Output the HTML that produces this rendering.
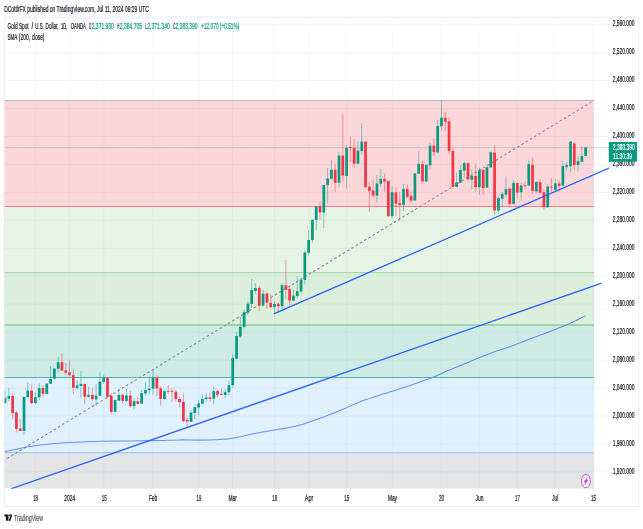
<!DOCTYPE html>
<html><head><meta charset="utf-8"><title>Chart</title>
<style>html,body{margin:0;padding:0;background:#fff;width:643px;height:529px;overflow:hidden;font-family:"Liberation Sans",sans-serif}</style>
</head><body>
<svg width="643" height="529" viewBox="0 0 643 529" style="position:absolute;left:0;top:0;display:block" font-family="Liberation Sans, sans-serif">
<rect x="0" y="0" width="643" height="529" fill="#fff"/>
<defs><clipPath id="plot"><rect x="4.2" y="17.1" width="604.8" height="471.7"/></clipPath></defs>
<line x1="4.2" y1="24.60" x2="609.0" y2="24.60" stroke="#f1f2f5" stroke-width="0.8"/>
<line x1="4.2" y1="52.56" x2="609.0" y2="52.56" stroke="#f1f2f5" stroke-width="0.8"/>
<line x1="4.2" y1="80.52" x2="609.0" y2="80.52" stroke="#f1f2f5" stroke-width="0.8"/>
<line x1="4.2" y1="108.48" x2="609.0" y2="108.48" stroke="#f1f2f5" stroke-width="0.8"/>
<line x1="4.2" y1="136.44" x2="609.0" y2="136.44" stroke="#f1f2f5" stroke-width="0.8"/>
<line x1="4.2" y1="164.40" x2="609.0" y2="164.40" stroke="#f1f2f5" stroke-width="0.8"/>
<line x1="4.2" y1="192.36" x2="609.0" y2="192.36" stroke="#f1f2f5" stroke-width="0.8"/>
<line x1="4.2" y1="220.32" x2="609.0" y2="220.32" stroke="#f1f2f5" stroke-width="0.8"/>
<line x1="4.2" y1="248.28" x2="609.0" y2="248.28" stroke="#f1f2f5" stroke-width="0.8"/>
<line x1="4.2" y1="276.24" x2="609.0" y2="276.24" stroke="#f1f2f5" stroke-width="0.8"/>
<line x1="4.2" y1="304.20" x2="609.0" y2="304.20" stroke="#f1f2f5" stroke-width="0.8"/>
<line x1="4.2" y1="332.16" x2="609.0" y2="332.16" stroke="#f1f2f5" stroke-width="0.8"/>
<line x1="4.2" y1="360.12" x2="609.0" y2="360.12" stroke="#f1f2f5" stroke-width="0.8"/>
<line x1="4.2" y1="388.08" x2="609.0" y2="388.08" stroke="#f1f2f5" stroke-width="0.8"/>
<line x1="4.2" y1="416.04" x2="609.0" y2="416.04" stroke="#f1f2f5" stroke-width="0.8"/>
<line x1="4.2" y1="444.00" x2="609.0" y2="444.00" stroke="#f1f2f5" stroke-width="0.8"/>
<line x1="4.2" y1="471.96" x2="609.0" y2="471.96" stroke="#f1f2f5" stroke-width="0.8"/>
<line x1="35.40" y1="17.1" x2="35.40" y2="488.8" stroke="#f2f3f6" stroke-width="0.6"/>
<line x1="69.60" y1="17.1" x2="69.60" y2="488.8" stroke="#f2f3f6" stroke-width="0.6"/>
<line x1="104.00" y1="17.1" x2="104.00" y2="488.8" stroke="#f2f3f6" stroke-width="0.6"/>
<line x1="152.90" y1="17.1" x2="152.90" y2="488.8" stroke="#f2f3f6" stroke-width="0.6"/>
<line x1="198.70" y1="17.1" x2="198.70" y2="488.8" stroke="#f2f3f6" stroke-width="0.6"/>
<line x1="232.50" y1="17.1" x2="232.50" y2="488.8" stroke="#f2f3f6" stroke-width="0.6"/>
<line x1="274.50" y1="17.1" x2="274.50" y2="488.8" stroke="#f2f3f6" stroke-width="0.6"/>
<line x1="308.80" y1="17.1" x2="308.80" y2="488.8" stroke="#f2f3f6" stroke-width="0.6"/>
<line x1="346.60" y1="17.1" x2="346.60" y2="488.8" stroke="#f2f3f6" stroke-width="0.6"/>
<line x1="392.30" y1="17.1" x2="392.30" y2="488.8" stroke="#f2f3f6" stroke-width="0.6"/>
<line x1="441.40" y1="17.1" x2="441.40" y2="488.8" stroke="#f2f3f6" stroke-width="0.6"/>
<line x1="479.30" y1="17.1" x2="479.30" y2="488.8" stroke="#f2f3f6" stroke-width="0.6"/>
<line x1="517.20" y1="17.1" x2="517.20" y2="488.8" stroke="#f2f3f6" stroke-width="0.6"/>
<line x1="555.00" y1="17.1" x2="555.00" y2="488.8" stroke="#f2f3f6" stroke-width="0.6"/>
<line x1="593.40" y1="17.1" x2="593.40" y2="488.8" stroke="#f2f3f6" stroke-width="0.6"/>
<g clip-path="url(#plot)">
<rect x="4.2" y="100.50" width="589.7" height="106.00" fill="#F23645" fill-opacity="0.2"/>
<rect x="4.2" y="206.50" width="589.7" height="66.10" fill="#81C784" fill-opacity="0.2"/>
<rect x="4.2" y="272.60" width="589.7" height="52.40" fill="#4CAF50" fill-opacity="0.2"/>
<rect x="4.2" y="325.00" width="589.7" height="52.50" fill="#089981" fill-opacity="0.2"/>
<rect x="4.2" y="377.50" width="589.7" height="75.20" fill="#64B5F6" fill-opacity="0.2"/>
<rect x="4.2" y="452.70" width="589.7" height="36.10" fill="#787B86" fill-opacity="0.2"/>
<line x1="4.2" y1="100.50" x2="593.9" y2="100.50" stroke="#a2a4ad" stroke-width="1.1" stroke-opacity="0.75"/>
<line x1="4.2" y1="206.50" x2="593.9" y2="206.50" stroke="#F23645" stroke-width="0.8" stroke-opacity="0.75"/>
<line x1="4.2" y1="272.60" x2="593.9" y2="272.60" stroke="#81C784" stroke-width="0.9" stroke-opacity="0.75"/>
<line x1="4.2" y1="325.00" x2="593.9" y2="325.00" stroke="#4CAF50" stroke-width="1.1" stroke-opacity="0.75"/>
<line x1="4.2" y1="377.50" x2="593.9" y2="377.50" stroke="#089981" stroke-width="0.9" stroke-opacity="0.75"/>
<line x1="4.2" y1="452.70" x2="593.9" y2="452.70" stroke="#64B5F6" stroke-width="1.1" stroke-opacity="0.75"/>
<line x1="-5.80" y1="466.32" x2="593.90" y2="100.50" stroke="#857e8c" stroke-width="1.1" stroke-opacity="0.9" stroke-dasharray="2.6 2.38"/>
<line x1="4.2" y1="147.6" x2="609.0" y2="147.6" stroke="#089981" stroke-width="0.6" stroke-opacity="0.38"/>
<path fill="none" stroke="#4f83f5" stroke-opacity="0.85" stroke-width="1.05" stroke-linejoin="round" d="M4.20 451.90 C5.17 451.67 7.37 451.08 10.00 450.50 C12.63 449.92 16.67 449.05 20.00 448.40 C23.33 447.75 26.67 447.17 30.00 446.60 C33.33 446.03 35.83 445.53 40.00 445.00 C44.17 444.47 49.17 443.87 55.00 443.40 C60.83 442.93 67.50 442.55 75.00 442.20 C82.50 441.85 92.50 441.50 100.00 441.30 C107.50 441.10 113.33 441.08 120.00 441.00 C126.67 440.92 133.33 440.90 140.00 440.80 C146.67 440.70 153.33 440.55 160.00 440.40 C166.67 440.25 173.33 439.95 180.00 439.90 C186.67 439.85 194.17 440.12 200.00 440.10 C205.83 440.08 210.04 440.03 215.00 439.80 C219.96 439.57 225.25 439.32 229.75 438.75 C234.25 438.18 237.86 437.26 242.00 436.40 C246.14 435.54 250.43 434.45 254.60 433.60 C258.77 432.75 262.85 432.02 267.00 431.30 C271.15 430.58 274.10 430.30 279.50 429.30 C284.90 428.30 292.77 427.08 299.40 425.30 C306.03 423.52 314.20 420.38 319.30 418.60 C324.40 416.82 325.73 416.30 330.00 414.60 C334.27 412.90 339.92 410.55 344.90 408.40 C349.88 406.25 354.09 403.90 359.90 401.70 C365.71 399.50 372.30 397.60 379.75 395.20 C387.20 392.80 397.14 389.78 404.60 387.30 C412.06 384.82 419.52 382.05 424.50 380.30 C429.48 378.55 430.35 378.53 434.50 376.80 C438.65 375.07 443.60 372.38 449.40 369.90 C455.20 367.42 462.67 364.60 469.30 361.90 C475.93 359.20 482.46 356.23 489.20 353.70 C495.94 351.17 502.18 349.43 509.75 346.70 C517.32 343.97 525.06 340.95 534.60 337.30 C544.14 333.65 558.50 328.42 567.00 324.80 C575.50 321.18 582.50 317.13 585.60 315.60"/>
<line x1="5.04" y1="390.61" x2="5.04" y2="403.09" stroke="#089981" stroke-width="0.6" stroke-opacity="0.8"/>
<rect x="3.69" y="398.10" width="2.7" height="4.99" fill="#089981"/>
<line x1="8.84" y1="388.11" x2="8.84" y2="401.22" stroke="#089981" stroke-width="0.6" stroke-opacity="0.8"/>
<rect x="7.49" y="395.98" width="2.7" height="2.75" fill="#089981"/>
<line x1="12.63" y1="392.23" x2="12.63" y2="419.31" stroke="#F23645" stroke-width="0.6" stroke-opacity="0.8"/>
<rect x="11.28" y="395.98" width="2.7" height="17.10" fill="#F23645"/>
<line x1="16.42" y1="410.58" x2="16.42" y2="432.42" stroke="#F23645" stroke-width="0.6" stroke-opacity="0.8"/>
<rect x="15.07" y="412.45" width="2.7" height="16.47" fill="#F23645"/>
<line x1="20.22" y1="418.69" x2="20.22" y2="430.92" stroke="#F23645" stroke-width="0.6" stroke-opacity="0.8"/>
<rect x="18.87" y="428.42" width="2.7" height="2.50" fill="#F23645"/>
<line x1="24.02" y1="396.85" x2="24.02" y2="434.66" stroke="#089981" stroke-width="0.6" stroke-opacity="0.8"/>
<rect x="22.66" y="396.85" width="2.7" height="34.07" fill="#089981"/>
<line x1="27.81" y1="382.25" x2="27.81" y2="397.22" stroke="#089981" stroke-width="0.6" stroke-opacity="0.8"/>
<rect x="26.46" y="390.61" width="2.7" height="6.61" fill="#089981"/>
<line x1="31.60" y1="384.37" x2="31.60" y2="404.71" stroke="#F23645" stroke-width="0.6" stroke-opacity="0.8"/>
<rect x="30.25" y="390.61" width="2.7" height="12.48" fill="#F23645"/>
<line x1="35.40" y1="392.23" x2="35.40" y2="403.96" stroke="#089981" stroke-width="0.6" stroke-opacity="0.8"/>
<rect x="34.05" y="397.22" width="2.7" height="5.87" fill="#089981"/>
<line x1="39.20" y1="383.12" x2="39.20" y2="400.22" stroke="#089981" stroke-width="0.6" stroke-opacity="0.8"/>
<rect x="37.84" y="388.11" width="2.7" height="9.11" fill="#089981"/>
<line x1="42.99" y1="384.93" x2="42.99" y2="396.79" stroke="#F23645" stroke-width="0.6" stroke-opacity="0.8"/>
<rect x="41.64" y="388.05" width="2.7" height="5.87" fill="#F23645"/>
<line x1="46.78" y1="383.06" x2="46.78" y2="393.92" stroke="#089981" stroke-width="0.6" stroke-opacity="0.8"/>
<rect x="45.43" y="383.68" width="2.7" height="10.23" fill="#089981"/>
<line x1="50.58" y1="366.21" x2="50.58" y2="383.68" stroke="#089981" stroke-width="0.6" stroke-opacity="0.8"/>
<rect x="49.23" y="378.94" width="2.7" height="4.74" fill="#089981"/>
<line x1="54.38" y1="368.46" x2="54.38" y2="378.69" stroke="#089981" stroke-width="0.6" stroke-opacity="0.8"/>
<rect x="53.02" y="368.46" width="2.7" height="10.23" fill="#089981"/>
<line x1="58.17" y1="356.85" x2="58.17" y2="372.45" stroke="#089981" stroke-width="0.6" stroke-opacity="0.8"/>
<rect x="56.82" y="362.22" width="2.7" height="6.49" fill="#089981"/>
<line x1="61.96" y1="353.48" x2="61.96" y2="370.58" stroke="#F23645" stroke-width="0.6" stroke-opacity="0.8"/>
<rect x="60.61" y="362.22" width="2.7" height="8.36" fill="#F23645"/>
<line x1="65.76" y1="363.09" x2="65.76" y2="374.95" stroke="#F23645" stroke-width="0.6" stroke-opacity="0.8"/>
<rect x="64.41" y="370.20" width="2.7" height="2.50" fill="#F23645"/>
<line x1="69.56" y1="360.59" x2="69.56" y2="376.19" stroke="#F23645" stroke-width="0.6" stroke-opacity="0.8"/>
<rect x="68.21" y="372.20" width="2.7" height="3.00" fill="#F23645"/>
<line x1="73.35" y1="369.33" x2="73.35" y2="393.92" stroke="#F23645" stroke-width="0.6" stroke-opacity="0.8"/>
<rect x="72.00" y="375.20" width="2.7" height="12.48" fill="#F23645"/>
<line x1="77.14" y1="380.19" x2="77.14" y2="389.92" stroke="#089981" stroke-width="0.6" stroke-opacity="0.8"/>
<rect x="75.80" y="385.55" width="2.7" height="2.50" fill="#089981"/>
<line x1="80.94" y1="370.95" x2="80.94" y2="398.41" stroke="#089981" stroke-width="0.6" stroke-opacity="0.8"/>
<rect x="79.59" y="383.93" width="2.7" height="2.00" fill="#089981"/>
<line x1="84.73" y1="383.93" x2="84.73" y2="403.90" stroke="#F23645" stroke-width="0.6" stroke-opacity="0.8"/>
<rect x="83.39" y="383.93" width="2.7" height="12.85" fill="#F23645"/>
<line x1="88.53" y1="386.80" x2="88.53" y2="397.41" stroke="#089981" stroke-width="0.6" stroke-opacity="0.8"/>
<rect x="87.18" y="394.91" width="2.7" height="1.87" fill="#089981"/>
<line x1="92.32" y1="388.05" x2="92.32" y2="401.15" stroke="#F23645" stroke-width="0.6" stroke-opacity="0.8"/>
<rect x="90.97" y="394.91" width="2.7" height="4.37" fill="#F23645"/>
<line x1="96.12" y1="383.98" x2="96.12" y2="406.19" stroke="#089981" stroke-width="0.6" stroke-opacity="0.8"/>
<rect x="94.77" y="395.83" width="2.7" height="3.49" fill="#089981"/>
<line x1="99.91" y1="371.87" x2="99.91" y2="395.83" stroke="#089981" stroke-width="0.6" stroke-opacity="0.8"/>
<rect x="98.56" y="381.48" width="2.7" height="14.35" fill="#089981"/>
<line x1="103.71" y1="374.37" x2="103.71" y2="383.48" stroke="#089981" stroke-width="0.6" stroke-opacity="0.8"/>
<rect x="102.36" y="377.49" width="2.7" height="4.37" fill="#089981"/>
<line x1="107.50" y1="377.74" x2="107.50" y2="398.71" stroke="#F23645" stroke-width="0.6" stroke-opacity="0.8"/>
<rect x="106.16" y="377.74" width="2.7" height="19.10" fill="#F23645"/>
<line x1="111.30" y1="393.09" x2="111.30" y2="414.31" stroke="#F23645" stroke-width="0.6" stroke-opacity="0.8"/>
<rect x="109.95" y="395.96" width="2.7" height="15.85" fill="#F23645"/>
<line x1="115.09" y1="399.95" x2="115.09" y2="411.81" stroke="#089981" stroke-width="0.6" stroke-opacity="0.8"/>
<rect x="113.75" y="399.95" width="2.7" height="11.86" fill="#089981"/>
<line x1="118.89" y1="388.72" x2="118.89" y2="401.20" stroke="#089981" stroke-width="0.6" stroke-opacity="0.8"/>
<rect x="117.54" y="394.96" width="2.7" height="5.62" fill="#089981"/>
<line x1="122.69" y1="393.71" x2="122.69" y2="403.95" stroke="#F23645" stroke-width="0.6" stroke-opacity="0.8"/>
<rect x="121.34" y="394.71" width="2.7" height="6.24" fill="#F23645"/>
<line x1="126.48" y1="388.97" x2="126.48" y2="401.83" stroke="#089981" stroke-width="0.6" stroke-opacity="0.8"/>
<rect x="125.13" y="395.59" width="2.7" height="5.37" fill="#089981"/>
<line x1="130.28" y1="390.59" x2="130.28" y2="408.07" stroke="#F23645" stroke-width="0.6" stroke-opacity="0.8"/>
<rect x="128.93" y="395.59" width="2.7" height="10.61" fill="#F23645"/>
<line x1="134.07" y1="398.08" x2="134.07" y2="408.94" stroke="#089981" stroke-width="0.6" stroke-opacity="0.8"/>
<rect x="132.72" y="401.20" width="2.7" height="4.99" fill="#089981"/>
<line x1="137.87" y1="396.83" x2="137.87" y2="403.95" stroke="#F23645" stroke-width="0.6" stroke-opacity="0.8"/>
<rect x="136.52" y="401.20" width="2.7" height="2.75" fill="#F23645"/>
<line x1="141.66" y1="389.97" x2="141.66" y2="403.70" stroke="#089981" stroke-width="0.6" stroke-opacity="0.8"/>
<rect x="140.31" y="393.09" width="2.7" height="10.61" fill="#089981"/>
<line x1="145.45" y1="381.85" x2="145.45" y2="395.58" stroke="#089981" stroke-width="0.6" stroke-opacity="0.8"/>
<rect x="144.10" y="389.96" width="2.7" height="3.49" fill="#089981"/>
<line x1="149.25" y1="376.48" x2="149.25" y2="393.71" stroke="#089981" stroke-width="0.6" stroke-opacity="0.8"/>
<rect x="147.90" y="388.46" width="2.7" height="1.75" fill="#089981"/>
<line x1="153.04" y1="369.99" x2="153.04" y2="394.70" stroke="#089981" stroke-width="0.6" stroke-opacity="0.8"/>
<rect x="151.69" y="377.48" width="2.7" height="11.23" fill="#089981"/>
<line x1="156.84" y1="375.23" x2="156.84" y2="396.20" stroke="#F23645" stroke-width="0.6" stroke-opacity="0.8"/>
<rect x="155.49" y="377.73" width="2.7" height="10.73" fill="#F23645"/>
<line x1="160.63" y1="386.47" x2="160.63" y2="405.56" stroke="#F23645" stroke-width="0.6" stroke-opacity="0.8"/>
<rect x="159.28" y="388.09" width="2.7" height="10.86" fill="#F23645"/>
<line x1="164.43" y1="388.71" x2="164.43" y2="399.70" stroke="#089981" stroke-width="0.6" stroke-opacity="0.8"/>
<rect x="163.08" y="391.21" width="2.7" height="7.74" fill="#089981"/>
<line x1="168.22" y1="384.97" x2="168.22" y2="393.95" stroke="#F23645" stroke-width="0.6" stroke-opacity="0.8"/>
<rect x="166.88" y="390.88" width="2.7" height="0.90" fill="#F23645"/>
<line x1="172.02" y1="388.46" x2="172.02" y2="401.82" stroke="#F23645" stroke-width="0.6" stroke-opacity="0.8"/>
<rect x="170.67" y="390.88" width="2.7" height="0.90" fill="#F23645"/>
<line x1="175.81" y1="389.96" x2="175.81" y2="401.44" stroke="#F23645" stroke-width="0.6" stroke-opacity="0.8"/>
<rect x="174.47" y="391.83" width="2.7" height="7.11" fill="#F23645"/>
<line x1="179.61" y1="397.20" x2="179.61" y2="407.43" stroke="#F23645" stroke-width="0.6" stroke-opacity="0.8"/>
<rect x="178.26" y="398.95" width="2.7" height="3.24" fill="#F23645"/>
<line x1="183.41" y1="393.71" x2="183.41" y2="422.41" stroke="#F23645" stroke-width="0.6" stroke-opacity="0.8"/>
<rect x="182.06" y="401.82" width="2.7" height="19.34" fill="#F23645"/>
<line x1="187.20" y1="418.04" x2="187.20" y2="426.78" stroke="#F23645" stroke-width="0.6" stroke-opacity="0.8"/>
<rect x="185.85" y="419.91" width="2.7" height="1.50" fill="#F23645"/>
<line x1="191.00" y1="410.18" x2="191.00" y2="421.79" stroke="#089981" stroke-width="0.6" stroke-opacity="0.8"/>
<rect x="189.65" y="412.68" width="2.7" height="9.11" fill="#089981"/>
<line x1="194.79" y1="405.56" x2="194.79" y2="419.29" stroke="#089981" stroke-width="0.6" stroke-opacity="0.8"/>
<rect x="193.44" y="407.18" width="2.7" height="5.87" fill="#089981"/>
<line x1="198.59" y1="400.20" x2="198.59" y2="415.55" stroke="#089981" stroke-width="0.6" stroke-opacity="0.8"/>
<rect x="197.24" y="403.44" width="2.7" height="3.99" fill="#089981"/>
<line x1="202.38" y1="394.33" x2="202.38" y2="404.31" stroke="#089981" stroke-width="0.6" stroke-opacity="0.8"/>
<rect x="201.03" y="398.95" width="2.7" height="4.74" fill="#089981"/>
<line x1="206.18" y1="393.04" x2="206.18" y2="401.78" stroke="#089981" stroke-width="0.6" stroke-opacity="0.8"/>
<rect x="204.83" y="397.41" width="2.7" height="1.50" fill="#089981"/>
<line x1="209.97" y1="391.79" x2="209.97" y2="401.78" stroke="#F23645" stroke-width="0.6" stroke-opacity="0.8"/>
<rect x="208.62" y="397.41" width="2.7" height="1.50" fill="#F23645"/>
<line x1="213.77" y1="386.80" x2="213.77" y2="403.90" stroke="#089981" stroke-width="0.6" stroke-opacity="0.8"/>
<rect x="212.42" y="391.17" width="2.7" height="7.49" fill="#089981"/>
<line x1="217.56" y1="389.92" x2="217.56" y2="397.66" stroke="#F23645" stroke-width="0.6" stroke-opacity="0.8"/>
<rect x="216.21" y="390.92" width="2.7" height="3.74" fill="#F23645"/>
<line x1="221.35" y1="388.42" x2="221.35" y2="394.91" stroke="#F23645" stroke-width="0.6" stroke-opacity="0.8"/>
<rect x="220.00" y="394.03" width="2.7" height="0.90" fill="#F23645"/>
<line x1="225.15" y1="389.30" x2="225.15" y2="398.41" stroke="#089981" stroke-width="0.6" stroke-opacity="0.8"/>
<rect x="223.80" y="392.17" width="2.7" height="2.75" fill="#089981"/>
<line x1="228.94" y1="380.56" x2="228.94" y2="395.54" stroke="#089981" stroke-width="0.6" stroke-opacity="0.8"/>
<rect x="227.59" y="385.18" width="2.7" height="6.99" fill="#089981"/>
<line x1="232.74" y1="353.98" x2="232.74" y2="388.05" stroke="#089981" stroke-width="0.6" stroke-opacity="0.8"/>
<rect x="231.39" y="358.10" width="2.7" height="27.08" fill="#089981"/>
<line x1="236.53" y1="332.22" x2="236.53" y2="359.30" stroke="#089981" stroke-width="0.6" stroke-opacity="0.8"/>
<rect x="235.19" y="335.96" width="2.7" height="22.71" fill="#089981"/>
<line x1="240.33" y1="316.49" x2="240.33" y2="338.08" stroke="#089981" stroke-width="0.6" stroke-opacity="0.8"/>
<rect x="238.98" y="326.85" width="2.7" height="9.61" fill="#089981"/>
<line x1="244.12" y1="309.69" x2="244.12" y2="328.41" stroke="#089981" stroke-width="0.6" stroke-opacity="0.8"/>
<rect x="242.78" y="312.18" width="2.7" height="14.60" fill="#089981"/>
<line x1="247.92" y1="300.95" x2="247.92" y2="314.68" stroke="#089981" stroke-width="0.6" stroke-opacity="0.8"/>
<rect x="246.57" y="303.70" width="2.7" height="8.74" fill="#089981"/>
<line x1="251.72" y1="278.99" x2="251.72" y2="308.07" stroke="#089981" stroke-width="0.6" stroke-opacity="0.8"/>
<rect x="250.37" y="290.22" width="2.7" height="13.73" fill="#089981"/>
<line x1="255.51" y1="283.10" x2="255.51" y2="293.71" stroke="#089981" stroke-width="0.6" stroke-opacity="0.8"/>
<rect x="254.16" y="288.10" width="2.7" height="2.87" fill="#089981"/>
<line x1="259.31" y1="286.22" x2="259.31" y2="310.94" stroke="#F23645" stroke-width="0.6" stroke-opacity="0.8"/>
<rect x="257.95" y="288.10" width="2.7" height="17.47" fill="#F23645"/>
<line x1="263.10" y1="289.97" x2="263.10" y2="306.44" stroke="#089981" stroke-width="0.6" stroke-opacity="0.8"/>
<rect x="261.75" y="293.71" width="2.7" height="11.86" fill="#089981"/>
<line x1="266.89" y1="291.84" x2="266.89" y2="308.69" stroke="#F23645" stroke-width="0.6" stroke-opacity="0.8"/>
<rect x="265.54" y="293.46" width="2.7" height="9.24" fill="#F23645"/>
<line x1="270.69" y1="294.34" x2="270.69" y2="308.07" stroke="#F23645" stroke-width="0.6" stroke-opacity="0.8"/>
<rect x="269.34" y="302.70" width="2.7" height="4.49" fill="#F23645"/>
<line x1="274.49" y1="301.20" x2="274.49" y2="313.68" stroke="#089981" stroke-width="0.6" stroke-opacity="0.8"/>
<rect x="273.13" y="303.95" width="2.7" height="3.24" fill="#089981"/>
<line x1="278.28" y1="302.20" x2="278.28" y2="312.43" stroke="#F23645" stroke-width="0.6" stroke-opacity="0.8"/>
<rect x="276.93" y="303.70" width="2.7" height="2.50" fill="#F23645"/>
<line x1="282.07" y1="283.10" x2="282.07" y2="310.56" stroke="#089981" stroke-width="0.6" stroke-opacity="0.8"/>
<rect x="280.72" y="285.23" width="2.7" height="20.97" fill="#089981"/>
<line x1="285.87" y1="260.02" x2="285.87" y2="299.33" stroke="#F23645" stroke-width="0.6" stroke-opacity="0.8"/>
<rect x="284.52" y="285.23" width="2.7" height="4.49" fill="#F23645"/>
<line x1="289.66" y1="285.60" x2="289.66" y2="305.57" stroke="#F23645" stroke-width="0.6" stroke-opacity="0.8"/>
<rect x="288.31" y="288.97" width="2.7" height="11.61" fill="#F23645"/>
<line x1="293.46" y1="289.34" x2="293.46" y2="301.20" stroke="#089981" stroke-width="0.6" stroke-opacity="0.8"/>
<rect x="292.11" y="295.59" width="2.7" height="4.99" fill="#089981"/>
<line x1="297.25" y1="275.99" x2="297.25" y2="298.71" stroke="#089981" stroke-width="0.6" stroke-opacity="0.8"/>
<rect x="295.90" y="291.22" width="2.7" height="4.74" fill="#089981"/>
<line x1="301.05" y1="278.74" x2="301.05" y2="293.71" stroke="#089981" stroke-width="0.6" stroke-opacity="0.8"/>
<rect x="299.70" y="279.73" width="2.7" height="11.73" fill="#089981"/>
<line x1="304.84" y1="250.59" x2="304.84" y2="284.29" stroke="#089981" stroke-width="0.6" stroke-opacity="0.8"/>
<rect x="303.49" y="252.46" width="2.7" height="27.46" fill="#089981"/>
<line x1="308.64" y1="230.00" x2="308.64" y2="255.59" stroke="#089981" stroke-width="0.6" stroke-opacity="0.8"/>
<rect x="307.29" y="239.98" width="2.7" height="12.73" fill="#089981"/>
<line x1="312.43" y1="219.30" x2="312.43" y2="242.51" stroke="#089981" stroke-width="0.6" stroke-opacity="0.8"/>
<rect x="311.08" y="219.92" width="2.7" height="20.09" fill="#089981"/>
<line x1="316.23" y1="205.57" x2="316.23" y2="230.53" stroke="#089981" stroke-width="0.6" stroke-opacity="0.8"/>
<rect x="314.88" y="206.19" width="2.7" height="13.73" fill="#089981"/>
<line x1="320.02" y1="201.83" x2="320.02" y2="219.92" stroke="#F23645" stroke-width="0.6" stroke-opacity="0.8"/>
<rect x="318.67" y="206.44" width="2.7" height="5.99" fill="#F23645"/>
<line x1="323.82" y1="184.73" x2="323.82" y2="228.03" stroke="#089981" stroke-width="0.6" stroke-opacity="0.8"/>
<rect x="322.47" y="184.98" width="2.7" height="27.46" fill="#089981"/>
<line x1="327.61" y1="168.10" x2="327.61" y2="203.67" stroke="#089981" stroke-width="0.6" stroke-opacity="0.8"/>
<rect x="326.26" y="178.46" width="2.7" height="6.74" fill="#089981"/>
<line x1="331.41" y1="159.98" x2="331.41" y2="179.95" stroke="#089981" stroke-width="0.6" stroke-opacity="0.8"/>
<rect x="330.06" y="169.72" width="2.7" height="8.99" fill="#089981"/>
<line x1="335.20" y1="163.73" x2="335.20" y2="191.81" stroke="#F23645" stroke-width="0.6" stroke-opacity="0.8"/>
<rect x="333.85" y="169.72" width="2.7" height="12.98" fill="#F23645"/>
<line x1="339.00" y1="151.87" x2="339.00" y2="187.44" stroke="#089981" stroke-width="0.6" stroke-opacity="0.8"/>
<rect x="337.65" y="155.62" width="2.7" height="27.08" fill="#089981"/>
<line x1="342.79" y1="113.56" x2="342.79" y2="181.83" stroke="#F23645" stroke-width="0.6" stroke-opacity="0.8"/>
<rect x="341.44" y="155.62" width="2.7" height="19.97" fill="#F23645"/>
<line x1="346.59" y1="144.76" x2="346.59" y2="188.69" stroke="#089981" stroke-width="0.6" stroke-opacity="0.8"/>
<rect x="345.24" y="147.75" width="2.7" height="28.21" fill="#089981"/>
<line x1="350.38" y1="136.90" x2="350.38" y2="161.86" stroke="#F23645" stroke-width="0.6" stroke-opacity="0.8"/>
<rect x="349.03" y="146.88" width="2.7" height="1.00" fill="#F23645"/>
<line x1="354.18" y1="139.14" x2="354.18" y2="167.47" stroke="#F23645" stroke-width="0.6" stroke-opacity="0.8"/>
<rect x="352.83" y="147.88" width="2.7" height="15.85" fill="#F23645"/>
<line x1="357.97" y1="141.01" x2="357.97" y2="163.73" stroke="#089981" stroke-width="0.6" stroke-opacity="0.8"/>
<rect x="356.62" y="150.62" width="2.7" height="13.10" fill="#089981"/>
<line x1="361.77" y1="123.17" x2="361.77" y2="154.74" stroke="#089981" stroke-width="0.6" stroke-opacity="0.8"/>
<rect x="360.42" y="141.64" width="2.7" height="9.36" fill="#089981"/>
<line x1="365.56" y1="141.01" x2="365.56" y2="187.44" stroke="#F23645" stroke-width="0.6" stroke-opacity="0.8"/>
<rect x="364.21" y="141.64" width="2.7" height="45.55" fill="#F23645"/>
<line x1="369.36" y1="181.83" x2="369.36" y2="211.79" stroke="#F23645" stroke-width="0.6" stroke-opacity="0.8"/>
<rect x="368.01" y="186.83" width="2.7" height="4.12" fill="#F23645"/>
<line x1="373.15" y1="179.96" x2="373.15" y2="197.43" stroke="#F23645" stroke-width="0.6" stroke-opacity="0.8"/>
<rect x="371.80" y="190.57" width="2.7" height="4.99" fill="#F23645"/>
<line x1="376.95" y1="174.97" x2="376.95" y2="202.18" stroke="#089981" stroke-width="0.6" stroke-opacity="0.8"/>
<rect x="375.60" y="183.46" width="2.7" height="12.11" fill="#089981"/>
<line x1="380.74" y1="168.98" x2="380.74" y2="186.83" stroke="#089981" stroke-width="0.6" stroke-opacity="0.8"/>
<rect x="379.39" y="178.96" width="2.7" height="4.74" fill="#089981"/>
<line x1="384.54" y1="173.47" x2="384.54" y2="191.82" stroke="#F23645" stroke-width="0.6" stroke-opacity="0.8"/>
<rect x="383.19" y="178.96" width="2.7" height="2.50" fill="#F23645"/>
<line x1="388.33" y1="180.59" x2="388.33" y2="216.78" stroke="#F23645" stroke-width="0.6" stroke-opacity="0.8"/>
<rect x="386.98" y="180.96" width="2.7" height="35.20" fill="#F23645"/>
<line x1="392.13" y1="186.20" x2="392.13" y2="218.65" stroke="#089981" stroke-width="0.6" stroke-opacity="0.8"/>
<rect x="390.78" y="192.19" width="2.7" height="23.96" fill="#089981"/>
<line x1="395.92" y1="187.20" x2="395.92" y2="216.15" stroke="#F23645" stroke-width="0.6" stroke-opacity="0.8"/>
<rect x="394.57" y="192.19" width="2.7" height="11.48" fill="#F23645"/>
<line x1="399.72" y1="191.82" x2="399.72" y2="221.02" stroke="#F23645" stroke-width="0.6" stroke-opacity="0.8"/>
<rect x="398.37" y="203.05" width="2.7" height="1.87" fill="#F23645"/>
<line x1="403.51" y1="183.71" x2="403.51" y2="211.16" stroke="#089981" stroke-width="0.6" stroke-opacity="0.8"/>
<rect x="402.16" y="188.95" width="2.7" height="15.98" fill="#089981"/>
<line x1="407.31" y1="184.70" x2="407.31" y2="198.68" stroke="#F23645" stroke-width="0.6" stroke-opacity="0.8"/>
<rect x="405.96" y="188.95" width="2.7" height="7.86" fill="#F23645"/>
<line x1="411.10" y1="191.19" x2="411.10" y2="203.05" stroke="#F23645" stroke-width="0.6" stroke-opacity="0.8"/>
<rect x="409.75" y="196.19" width="2.7" height="4.37" fill="#F23645"/>
<line x1="414.90" y1="173.10" x2="414.90" y2="200.55" stroke="#089981" stroke-width="0.6" stroke-opacity="0.8"/>
<rect x="413.55" y="173.47" width="2.7" height="27.08" fill="#089981"/>
<line x1="418.69" y1="151.26" x2="418.69" y2="173.72" stroke="#089981" stroke-width="0.6" stroke-opacity="0.8"/>
<rect x="417.34" y="163.99" width="2.7" height="9.73" fill="#089981"/>
<line x1="422.49" y1="160.62" x2="422.49" y2="183.46" stroke="#F23645" stroke-width="0.6" stroke-opacity="0.8"/>
<rect x="421.14" y="163.99" width="2.7" height="17.47" fill="#F23645"/>
<line x1="426.28" y1="163.99" x2="426.28" y2="181.83" stroke="#089981" stroke-width="0.6" stroke-opacity="0.8"/>
<rect x="424.93" y="164.98" width="2.7" height="16.47" fill="#089981"/>
<line x1="430.08" y1="143.05" x2="430.08" y2="169.38" stroke="#089981" stroke-width="0.6" stroke-opacity="0.8"/>
<rect x="428.73" y="145.55" width="2.7" height="19.72" fill="#089981"/>
<line x1="433.87" y1="138.06" x2="433.87" y2="155.90" stroke="#F23645" stroke-width="0.6" stroke-opacity="0.8"/>
<rect x="432.52" y="145.55" width="2.7" height="6.61" fill="#F23645"/>
<line x1="437.67" y1="119.96" x2="437.67" y2="153.66" stroke="#089981" stroke-width="0.6" stroke-opacity="0.8"/>
<rect x="436.32" y="125.95" width="2.7" height="26.46" fill="#089981"/>
<line x1="441.46" y1="100.62" x2="441.46" y2="130.57" stroke="#089981" stroke-width="0.6" stroke-opacity="0.8"/>
<rect x="440.11" y="117.71" width="2.7" height="8.49" fill="#089981"/>
<line x1="445.26" y1="111.85" x2="445.26" y2="131.19" stroke="#F23645" stroke-width="0.6" stroke-opacity="0.8"/>
<rect x="443.91" y="117.71" width="2.7" height="4.12" fill="#F23645"/>
<line x1="449.05" y1="117.22" x2="449.05" y2="153.66" stroke="#F23645" stroke-width="0.6" stroke-opacity="0.8"/>
<rect x="447.70" y="121.46" width="2.7" height="29.45" fill="#F23645"/>
<line x1="452.85" y1="148.12" x2="452.85" y2="186.81" stroke="#F23645" stroke-width="0.6" stroke-opacity="0.8"/>
<rect x="451.50" y="150.99" width="2.7" height="35.82" fill="#F23645"/>
<line x1="456.64" y1="172.71" x2="456.64" y2="186.81" stroke="#089981" stroke-width="0.6" stroke-opacity="0.8"/>
<rect x="455.29" y="182.44" width="2.7" height="4.37" fill="#089981"/>
<line x1="460.44" y1="164.97" x2="460.44" y2="182.69" stroke="#089981" stroke-width="0.6" stroke-opacity="0.8"/>
<rect x="459.09" y="169.96" width="2.7" height="12.73" fill="#089981"/>
<line x1="464.23" y1="161.22" x2="464.23" y2="177.70" stroke="#089981" stroke-width="0.6" stroke-opacity="0.8"/>
<rect x="462.88" y="163.10" width="2.7" height="7.49" fill="#089981"/>
<line x1="468.03" y1="163.10" x2="468.03" y2="181.19" stroke="#F23645" stroke-width="0.6" stroke-opacity="0.8"/>
<rect x="466.68" y="163.10" width="2.7" height="16.22" fill="#F23645"/>
<line x1="471.82" y1="169.34" x2="471.82" y2="189.68" stroke="#089981" stroke-width="0.6" stroke-opacity="0.8"/>
<rect x="470.47" y="175.95" width="2.7" height="3.74" fill="#089981"/>
<line x1="475.62" y1="163.72" x2="475.62" y2="191.80" stroke="#F23645" stroke-width="0.6" stroke-opacity="0.8"/>
<rect x="474.27" y="175.95" width="2.7" height="11.23" fill="#F23645"/>
<line x1="479.41" y1="167.71" x2="479.41" y2="194.92" stroke="#089981" stroke-width="0.6" stroke-opacity="0.8"/>
<rect x="478.06" y="169.96" width="2.7" height="17.22" fill="#089981"/>
<line x1="483.21" y1="169.34" x2="483.21" y2="194.92" stroke="#F23645" stroke-width="0.6" stroke-opacity="0.8"/>
<rect x="481.86" y="169.96" width="2.7" height="18.10" fill="#F23645"/>
<line x1="487.00" y1="166.22" x2="487.00" y2="187.69" stroke="#089981" stroke-width="0.6" stroke-opacity="0.8"/>
<rect x="485.65" y="167.22" width="2.7" height="20.47" fill="#089981"/>
<line x1="490.80" y1="151.50" x2="490.80" y2="167.47" stroke="#089981" stroke-width="0.6" stroke-opacity="0.8"/>
<rect x="489.45" y="152.25" width="2.7" height="15.23" fill="#089981"/>
<line x1="494.59" y1="145.01" x2="494.59" y2="214.90" stroke="#F23645" stroke-width="0.6" stroke-opacity="0.8"/>
<rect x="493.24" y="152.50" width="2.7" height="58.03" fill="#F23645"/>
<line x1="498.39" y1="196.18" x2="498.39" y2="213.65" stroke="#089981" stroke-width="0.6" stroke-opacity="0.8"/>
<rect x="497.04" y="198.05" width="2.7" height="12.48" fill="#089981"/>
<line x1="502.18" y1="191.81" x2="502.18" y2="207.41" stroke="#089981" stroke-width="0.6" stroke-opacity="0.8"/>
<rect x="500.83" y="193.93" width="2.7" height="4.74" fill="#089981"/>
<line x1="505.98" y1="176.46" x2="505.98" y2="198.05" stroke="#089981" stroke-width="0.6" stroke-opacity="0.8"/>
<rect x="504.63" y="188.94" width="2.7" height="5.74" fill="#089981"/>
<line x1="509.77" y1="187.44" x2="509.77" y2="208.03" stroke="#F23645" stroke-width="0.6" stroke-opacity="0.8"/>
<rect x="508.42" y="188.69" width="2.7" height="15.23" fill="#F23645"/>
<line x1="513.57" y1="179.95" x2="513.57" y2="203.92" stroke="#089981" stroke-width="0.6" stroke-opacity="0.8"/>
<rect x="512.22" y="183.07" width="2.7" height="20.84" fill="#089981"/>
<line x1="517.37" y1="182.70" x2="517.37" y2="198.42" stroke="#F23645" stroke-width="0.6" stroke-opacity="0.8"/>
<rect x="516.01" y="183.07" width="2.7" height="9.61" fill="#F23645"/>
<line x1="521.16" y1="182.70" x2="521.16" y2="200.55" stroke="#089981" stroke-width="0.6" stroke-opacity="0.8"/>
<rect x="519.81" y="185.57" width="2.7" height="6.61" fill="#089981"/>
<line x1="524.96" y1="181.83" x2="524.96" y2="188.94" stroke="#F23645" stroke-width="0.6" stroke-opacity="0.8"/>
<rect x="523.61" y="185.31" width="2.7" height="0.90" fill="#F23645"/>
<line x1="528.75" y1="160.23" x2="528.75" y2="186.19" stroke="#089981" stroke-width="0.6" stroke-opacity="0.8"/>
<rect x="527.40" y="163.98" width="2.7" height="21.59" fill="#089981"/>
<line x1="532.54" y1="157.49" x2="532.54" y2="193.93" stroke="#F23645" stroke-width="0.6" stroke-opacity="0.8"/>
<rect x="531.19" y="164.73" width="2.7" height="26.21" fill="#F23645"/>
<line x1="536.34" y1="181.83" x2="536.34" y2="193.43" stroke="#089981" stroke-width="0.6" stroke-opacity="0.8"/>
<rect x="534.99" y="181.83" width="2.7" height="9.61" fill="#089981"/>
<line x1="540.13" y1="179.70" x2="540.13" y2="194.31" stroke="#F23645" stroke-width="0.6" stroke-opacity="0.8"/>
<rect x="538.78" y="182.20" width="2.7" height="10.48" fill="#F23645"/>
<line x1="543.93" y1="189.31" x2="543.93" y2="209.66" stroke="#F23645" stroke-width="0.6" stroke-opacity="0.8"/>
<rect x="542.58" y="192.18" width="2.7" height="14.98" fill="#F23645"/>
<line x1="547.73" y1="184.32" x2="547.73" y2="207.41" stroke="#089981" stroke-width="0.6" stroke-opacity="0.8"/>
<rect x="546.38" y="186.44" width="2.7" height="20.97" fill="#089981"/>
<line x1="551.52" y1="178.06" x2="551.52" y2="191.79" stroke="#F23645" stroke-width="0.6" stroke-opacity="0.8"/>
<rect x="550.17" y="186.78" width="2.7" height="0.90" fill="#F23645"/>
<line x1="555.31" y1="178.93" x2="555.31" y2="192.41" stroke="#089981" stroke-width="0.6" stroke-opacity="0.8"/>
<rect x="553.96" y="183.42" width="2.7" height="6.74" fill="#089981"/>
<line x1="559.11" y1="180.55" x2="559.11" y2="191.79" stroke="#F23645" stroke-width="0.6" stroke-opacity="0.8"/>
<rect x="557.76" y="183.42" width="2.7" height="2.50" fill="#F23645"/>
<line x1="562.90" y1="160.96" x2="562.90" y2="186.17" stroke="#089981" stroke-width="0.6" stroke-opacity="0.8"/>
<rect x="561.55" y="166.20" width="2.7" height="19.34" fill="#089981"/>
<line x1="566.70" y1="161.83" x2="566.70" y2="170.57" stroke="#089981" stroke-width="0.6" stroke-opacity="0.8"/>
<rect x="565.35" y="164.95" width="2.7" height="1.87" fill="#089981"/>
<line x1="570.50" y1="140.99" x2="570.50" y2="171.82" stroke="#089981" stroke-width="0.6" stroke-opacity="0.8"/>
<rect x="569.14" y="141.49" width="2.7" height="24.71" fill="#089981"/>
<line x1="574.29" y1="142.49" x2="574.29" y2="169.70" stroke="#F23645" stroke-width="0.6" stroke-opacity="0.8"/>
<rect x="572.94" y="143.49" width="2.7" height="21.47" fill="#F23645"/>
<line x1="578.08" y1="155.97" x2="578.08" y2="171.19" stroke="#089981" stroke-width="0.6" stroke-opacity="0.8"/>
<rect x="576.73" y="161.21" width="2.7" height="3.74" fill="#089981"/>
<line x1="581.88" y1="145.98" x2="581.88" y2="161.83" stroke="#089981" stroke-width="0.6" stroke-opacity="0.8"/>
<rect x="580.53" y="156.22" width="2.7" height="5.62" fill="#089981"/>
<line x1="585.67" y1="147.23" x2="585.67" y2="155.97" stroke="#089981" stroke-width="0.6" stroke-opacity="0.8"/>
<rect x="584.32" y="147.23" width="2.7" height="8.74" fill="#089981"/>
<line x1="11.6" y1="488.6" x2="601" y2="283.4" stroke="#2962FF" stroke-width="1.3" stroke-linecap="round"/>
<line x1="274.3" y1="313.7" x2="609" y2="168.0" stroke="#2962FF" stroke-width="1.3" stroke-linecap="round"/>
</g>
<ellipse cx="585.9" cy="481.05" rx="4.35" ry="6.7" fill="#fff" stroke="#BD3BCB" stroke-width="0.9"/>
<path d="M587.1 477.0 L583.9 482.2 L585.6 482.2 L584.6 485.1 L588.0 479.9 L586.3 479.9 Z" fill="#BD3BCB" stroke="#BD3BCB" stroke-width="0.3" stroke-linejoin="round"/>
<rect x="4.2" y="17.1" width="634.6" height="489.3" fill="none" stroke="#e4e6ec" stroke-width="0.8"/>
<filter id="tb" x="-2%" y="-2%" width="104%" height="104%" color-interpolation-filters="sRGB"><feGaussianBlur stdDeviation="0.28"/></filter>
<g filter="url(#tb)">
<text x="4.20" y="12.10" font-size="8.50" fill="#131722" text-anchor="start" textLength="144.60" lengthAdjust="spacingAndGlyphs" stroke="#131722" stroke-width="0.22">DCottlrFX published on TradingView.com, Jul 11, 2024 09:29 UTC</text>
<rect x="5.5" y="21" width="235" height="10.5" fill="#fff" fill-opacity="0.85"/>
<rect x="5.5" y="33" width="40.5" height="9.5" fill="#fff" fill-opacity="0.85"/>
<text x="7.50" y="29.00" font-size="8.50" fill="#131722" text-anchor="start" textLength="21.20" lengthAdjust="spacingAndGlyphs" stroke="#131722" stroke-width="0.22">Gold Spot</text>
<text x="31.50" y="29.00" font-size="8.50" fill="#131722" text-anchor="start" textLength="1.80" lengthAdjust="spacingAndGlyphs" stroke="#131722" stroke-width="0.22">/</text>
<text x="35.30" y="29.00" font-size="8.50" fill="#131722" text-anchor="start" textLength="8.50" lengthAdjust="spacingAndGlyphs" stroke="#131722" stroke-width="0.22">U.S.</text>
<text x="45.60" y="29.00" font-size="8.50" fill="#131722" text-anchor="start" textLength="12.90" lengthAdjust="spacingAndGlyphs" stroke="#131722" stroke-width="0.22">Dollar,</text>
<text x="60.90" y="29.00" font-size="8.50" fill="#131722" text-anchor="start" textLength="6.30" lengthAdjust="spacingAndGlyphs" stroke="#131722" stroke-width="0.22">1D,</text>
<text x="70.80" y="29.00" font-size="8.50" fill="#131722" text-anchor="start" textLength="15.00" lengthAdjust="spacingAndGlyphs" stroke="#131722" stroke-width="0.22">OANDA</text>
<text x="89.00" y="29.00" font-size="8.50" fill="#131722" text-anchor="start" textLength="2.30" lengthAdjust="spacingAndGlyphs" stroke="#131722" stroke-width="0.22">O</text>
<text x="91.70" y="29.00" font-size="8.50" fill="#089981" text-anchor="start" textLength="22.20" lengthAdjust="spacingAndGlyphs" stroke="#089981" stroke-width="0.22">2,371.930</text>
<text x="117.30" y="29.00" font-size="8.50" fill="#131722" text-anchor="start" textLength="2.10" lengthAdjust="spacingAndGlyphs" stroke="#131722" stroke-width="0.22">H</text>
<text x="119.70" y="29.00" font-size="8.50" fill="#089981" text-anchor="start" textLength="22.50" lengthAdjust="spacingAndGlyphs" stroke="#089981" stroke-width="0.22">2,384.705</text>
<text x="145.30" y="29.00" font-size="8.50" fill="#131722" text-anchor="start" textLength="1.60" lengthAdjust="spacingAndGlyphs" stroke="#131722" stroke-width="0.22">L</text>
<text x="147.20" y="29.00" font-size="8.50" fill="#089981" text-anchor="start" textLength="22.70" lengthAdjust="spacingAndGlyphs" stroke="#089981" stroke-width="0.22">2,371.340</text>
<text x="173.20" y="29.00" font-size="8.50" fill="#131722" text-anchor="start" textLength="2.10" lengthAdjust="spacingAndGlyphs" stroke="#131722" stroke-width="0.22">C</text>
<text x="175.60" y="29.00" font-size="8.50" fill="#089981" text-anchor="start" textLength="22.00" lengthAdjust="spacingAndGlyphs" stroke="#089981" stroke-width="0.22">2,383.390</text>
<text x="201.20" y="29.00" font-size="8.50" fill="#089981" text-anchor="start" textLength="38.10" lengthAdjust="spacingAndGlyphs" stroke="#089981" stroke-width="0.22">+12.070 (+0.51%)</text>
<text x="7.50" y="39.90" font-size="8.50" fill="#131722" text-anchor="start" textLength="9.90" lengthAdjust="spacingAndGlyphs" stroke="#131722" stroke-width="0.22">SMA</text>
<text x="18.70" y="39.90" font-size="8.50" fill="#131722" text-anchor="start" textLength="11.60" lengthAdjust="spacingAndGlyphs" stroke="#131722" stroke-width="0.22">(200,</text>
<text x="31.90" y="39.90" font-size="8.50" fill="#131722" text-anchor="start" textLength="12.40" lengthAdjust="spacingAndGlyphs" stroke="#131722" stroke-width="0.22">close)</text>
<text x="612.70" y="26.20" font-size="8.50" fill="#131722" text-anchor="start" textLength="21.80" lengthAdjust="spacingAndGlyphs" stroke="#131722" stroke-width="0.22">2,560.000</text>
<text x="612.70" y="54.16" font-size="8.50" fill="#131722" text-anchor="start" textLength="21.80" lengthAdjust="spacingAndGlyphs" stroke="#131722" stroke-width="0.22">2,520.000</text>
<text x="612.70" y="82.12" font-size="8.50" fill="#131722" text-anchor="start" textLength="21.80" lengthAdjust="spacingAndGlyphs" stroke="#131722" stroke-width="0.22">2,480.000</text>
<text x="612.70" y="110.08" font-size="8.50" fill="#131722" text-anchor="start" textLength="21.80" lengthAdjust="spacingAndGlyphs" stroke="#131722" stroke-width="0.22">2,440.000</text>
<text x="612.70" y="138.04" font-size="8.50" fill="#131722" text-anchor="start" textLength="21.80" lengthAdjust="spacingAndGlyphs" stroke="#131722" stroke-width="0.22">2,400.000</text>
<text x="612.70" y="166.00" font-size="8.50" fill="#131722" text-anchor="start" textLength="21.80" lengthAdjust="spacingAndGlyphs" stroke="#131722" stroke-width="0.22">2,360.000</text>
<text x="612.70" y="193.96" font-size="8.50" fill="#131722" text-anchor="start" textLength="21.80" lengthAdjust="spacingAndGlyphs" stroke="#131722" stroke-width="0.22">2,320.000</text>
<text x="612.70" y="221.92" font-size="8.50" fill="#131722" text-anchor="start" textLength="21.80" lengthAdjust="spacingAndGlyphs" stroke="#131722" stroke-width="0.22">2,280.000</text>
<text x="612.70" y="249.88" font-size="8.50" fill="#131722" text-anchor="start" textLength="21.80" lengthAdjust="spacingAndGlyphs" stroke="#131722" stroke-width="0.22">2,240.000</text>
<text x="612.70" y="277.84" font-size="8.50" fill="#131722" text-anchor="start" textLength="21.80" lengthAdjust="spacingAndGlyphs" stroke="#131722" stroke-width="0.22">2,200.000</text>
<text x="612.70" y="305.80" font-size="8.50" fill="#131722" text-anchor="start" textLength="21.80" lengthAdjust="spacingAndGlyphs" stroke="#131722" stroke-width="0.22">2,160.000</text>
<text x="612.70" y="333.76" font-size="8.50" fill="#131722" text-anchor="start" textLength="21.80" lengthAdjust="spacingAndGlyphs" stroke="#131722" stroke-width="0.22">2,120.000</text>
<text x="612.70" y="361.72" font-size="8.50" fill="#131722" text-anchor="start" textLength="21.80" lengthAdjust="spacingAndGlyphs" stroke="#131722" stroke-width="0.22">2,080.000</text>
<text x="612.70" y="389.68" font-size="8.50" fill="#131722" text-anchor="start" textLength="21.80" lengthAdjust="spacingAndGlyphs" stroke="#131722" stroke-width="0.22">2,040.000</text>
<text x="612.70" y="417.64" font-size="8.50" fill="#131722" text-anchor="start" textLength="21.80" lengthAdjust="spacingAndGlyphs" stroke="#131722" stroke-width="0.22">2,000.000</text>
<text x="612.70" y="445.60" font-size="8.50" fill="#131722" text-anchor="start" textLength="21.80" lengthAdjust="spacingAndGlyphs" stroke="#131722" stroke-width="0.22">1,960.000</text>
<text x="612.70" y="473.56" font-size="8.50" fill="#131722" text-anchor="start" textLength="21.80" lengthAdjust="spacingAndGlyphs" stroke="#131722" stroke-width="0.22">1,920.000</text>
<rect x="608.8" y="142.05" width="28.2" height="19.65" rx="0.6" fill="#089981"/>
<text x="612.80" y="149.80" font-size="8.50" fill="#fff" text-anchor="start" textLength="22.00" lengthAdjust="spacingAndGlyphs" stroke="#fff" stroke-width="0.22">2,383.390</text>
<text x="613.10" y="158.90" font-size="8.50" fill="#fff" text-anchor="start" textLength="18.80" lengthAdjust="spacingAndGlyphs" stroke="#fff" stroke-width="0.22">11:30:39</text>
<text x="33.25" y="500.70" font-size="8.50" fill="#131722" text-anchor="start" textLength="4.70" lengthAdjust="spacingAndGlyphs" stroke="#131722" stroke-width="0.22">18</text>
<text x="64.25" y="500.70" font-size="8.50" fill="#131722" text-anchor="start" textLength="11.10" lengthAdjust="spacingAndGlyphs" stroke="#131722" stroke-width="0.22">2024</text>
<text x="101.70" y="500.70" font-size="8.50" fill="#131722" text-anchor="start" textLength="5.00" lengthAdjust="spacingAndGlyphs" stroke="#131722" stroke-width="0.22">15</text>
<text x="148.90" y="500.70" font-size="8.50" fill="#131722" text-anchor="start" textLength="8.40" lengthAdjust="spacingAndGlyphs" stroke="#131722" stroke-width="0.22">Feb</text>
<text x="196.55" y="500.70" font-size="8.50" fill="#131722" text-anchor="start" textLength="4.70" lengthAdjust="spacingAndGlyphs" stroke="#131722" stroke-width="0.22">19</text>
<text x="228.50" y="500.70" font-size="8.50" fill="#131722" text-anchor="start" textLength="8.40" lengthAdjust="spacingAndGlyphs" stroke="#131722" stroke-width="0.22">Mar</text>
<text x="272.35" y="500.70" font-size="8.50" fill="#131722" text-anchor="start" textLength="4.70" lengthAdjust="spacingAndGlyphs" stroke="#131722" stroke-width="0.22">18</text>
<text x="304.80" y="500.70" font-size="8.50" fill="#131722" text-anchor="start" textLength="8.40" lengthAdjust="spacingAndGlyphs" stroke="#131722" stroke-width="0.22">Apr</text>
<text x="344.30" y="500.70" font-size="8.50" fill="#131722" text-anchor="start" textLength="5.00" lengthAdjust="spacingAndGlyphs" stroke="#131722" stroke-width="0.22">15</text>
<text x="388.00" y="500.70" font-size="8.50" fill="#131722" text-anchor="start" textLength="9.00" lengthAdjust="spacingAndGlyphs" stroke="#131722" stroke-width="0.22">May</text>
<text x="439.00" y="500.70" font-size="8.50" fill="#131722" text-anchor="start" textLength="5.20" lengthAdjust="spacingAndGlyphs" stroke="#131722" stroke-width="0.22">20</text>
<text x="475.50" y="500.70" font-size="8.50" fill="#131722" text-anchor="start" textLength="8.00" lengthAdjust="spacingAndGlyphs" stroke="#131722" stroke-width="0.22">Jun</text>
<text x="515.05" y="500.70" font-size="8.50" fill="#131722" text-anchor="start" textLength="4.70" lengthAdjust="spacingAndGlyphs" stroke="#131722" stroke-width="0.22">17</text>
<text x="551.90" y="500.70" font-size="8.50" fill="#131722" text-anchor="start" textLength="6.60" lengthAdjust="spacingAndGlyphs" stroke="#131722" stroke-width="0.22">Jul</text>
<text x="591.10" y="500.70" font-size="8.50" fill="#131722" text-anchor="start" textLength="5.00" lengthAdjust="spacingAndGlyphs" stroke="#131722" stroke-width="0.22">15</text>
<path d="M4.35 514.4 H8.5 V520.7 H5.9 V516.6 H4.35 Z" fill="#131722"/>
<ellipse cx="9.75" cy="515.2" rx="0.8" ry="0.95" fill="#131722"/>
<path d="M10.7 514.4 H12.3 L10.6 520.7 H8.7 Z" fill="#131722"/>
<text x="13.90" y="520.80" font-size="8.50" fill="#454954" text-anchor="start" textLength="29.20" lengthAdjust="spacingAndGlyphs" stroke="#454954" stroke-width="0.14">TradingView</text>
</g>
</svg>
</body></html>
